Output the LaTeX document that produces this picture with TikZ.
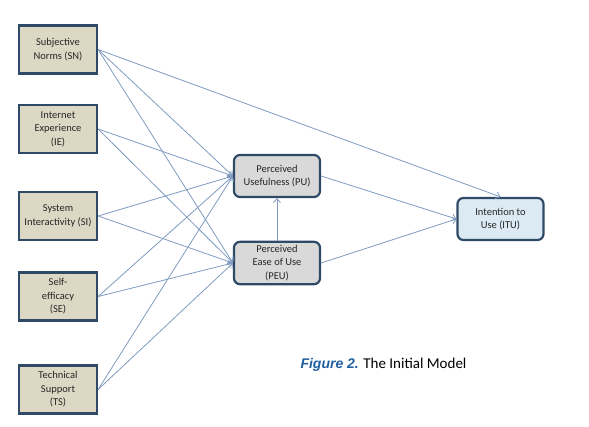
\documentclass[tikz,border=0pt]{standalone}
\usepackage{fontspec}
\setmainfont{Carlito}
\newfontfamily\captfont{Liberation Sans}
\usepackage{xcolor}
\usetikzlibrary{arrows.meta,positioning}
\definecolor{edgeblue}{HTML}{2F4A66}
\definecolor{linkblue}{HTML}{7F9BBF}
\definecolor{tanfill}{HTML}{DDD8C4}
\definecolor{greyfill}{HTML}{D9D9D9}
\definecolor{skyfill}{HTML}{DCEBF3}
\definecolor{capblue}{HTML}{1F5FA0}
\tikzset{
 factor/.style={draw=edgeblue,line width=2.2pt,fill=tanfill,minimum width=78pt,
  minimum height=48pt,align=center,font=\fontsize{10.5}{13.5}\selectfont,text=black!85},
 construct/.style={factor,rounded corners=6pt,minimum width=86pt,minimum height=42pt},
 link/.style={draw=linkblue,line width=.8pt,-{Straight Barb[length=4pt,width=7pt]}}
}

\begin{document}
\begin{tikzpicture}[x=1pt,y=-1pt]
\useasboundingbox (0,0) rectangle (589,427);
% external factors
\foreach \n/\t/\yy in {SN/{Subjective\\Norms (SN)}/49.5,IE/{Internet\\Experience\\(IE)}/129,
 SI/{System\\Interactivity (SI)}/216,SE/{Self-\\efficacy\\(SE)}/296.5,TS/{Technical\\Support\\(TS)}/389.5}
 \node[factor] (\n) at (58,\yy) {\t};
% TAM constructs
\node[construct,fill=greyfill] (PU) at (277,176) {Perceived\\Usefulness (PU)};
\node[construct,fill=greyfill] (PEU) at (277,263) {Perceived\\Ease of Use\\(PEU)};
\node[construct,fill=skyfill] (ITU) at (500.5,219) {Intention to\\Use (ITU)};
\foreach \n in {SN,IE,SI,SE,TS} {
 \draw[link] (\n.east) -- (PU.west);
 \draw[link] (\n.east) -- (PEU.west);}
\draw[link] (SN.east) -- (ITU.north);
\draw[link] (PEU.north) -- (PU.south);
\draw[link] (PU.east) -- (ITU.west);
\draw[link] (PEU.east) -- (ITU.west);
\node[anchor=west,font=\fontsize{15}{17}\selectfont] (cap) at (297,365)
 {\textcolor{capblue}{\captfont\fontsize{14}{17}\selectfont\bfseries\itshape Figure 2.} The Initial Model};
\end{tikzpicture}
\end{document}
